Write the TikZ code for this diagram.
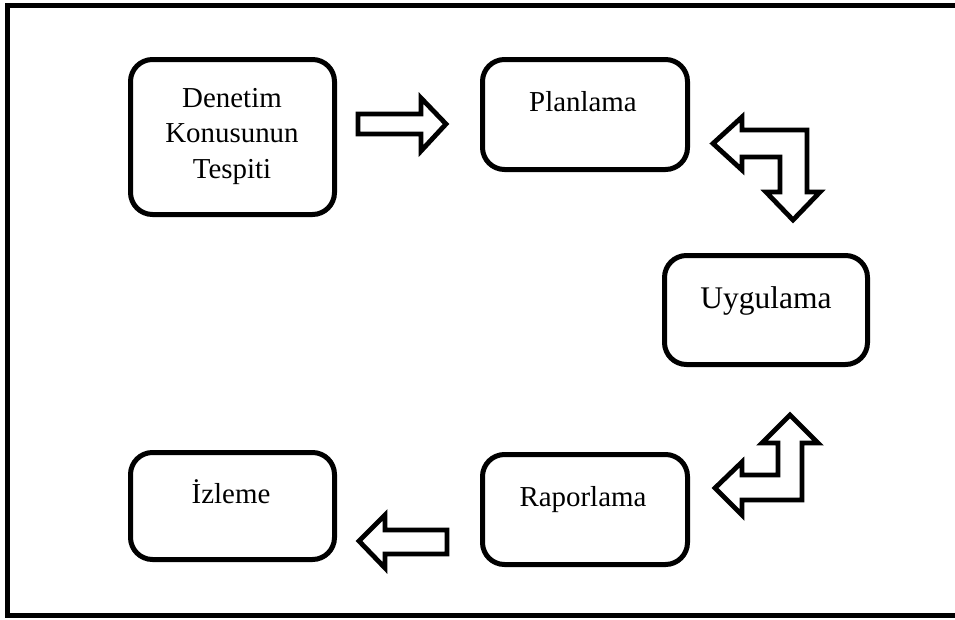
\documentclass[tikz,border=0pt]{standalone}
\usepackage{fontspec}
\setmainfont{Liberation Serif}
\begin{document}
\begin{tikzpicture}[x=1pt,y=-1pt,
  stepbox/.style={draw=black,line width=5pt,rounded corners=22pt,fill=white,
    inner sep=0pt,outer sep=0pt},
  label/.style={font=\fontsize{28.9}{35.5}\selectfont,anchor=base,inner sep=0pt,align=center},
  blockarrow/.style={draw=black,line width=4.8pt,fill=white,line join=miter,miter limit=10}]
  \useasboundingbox (0,0) rectangle (955,619);
  \fill[white] (0,0) rectangle (955,619);
  % outer frame, open on the right
  \draw[line width=5pt] (955,5.5) -- (7.5,5.5) -- (7.5,615.5) -- (955,615.5);

  % process boxes
  \node[stepbox,minimum width=204pt,minimum height=155pt] (tespit) at (232.5,137) {};
  \node[stepbox,minimum width=205pt,minimum height=110pt] (plan) at (585,114.5) {};
  \node[stepbox,minimum width=203pt,minimum height=109pt] (uygula) at (766,310) {};
  \node[stepbox,minimum width=205pt,minimum height=110pt] (rapor) at (585,509.5) {};
  \node[stepbox,minimum width=204pt,minimum height=107pt] (izle) at (232.5,506) {};

  % box texts
  \node[label,anchor=north] (tespittxt) at (232,88) {Denetim\\Konusunun\\Tespiti};
  \node[label] (plantxt) at (583,111) {Planlama};
  \node[label,font=\fontsize{31.5}{38}\selectfont] (uygulatxt) at (766,308) {Uygulama};
  \node[label] (raportxt) at (583,506) {Raporlama};
  \node[label] (izletxt) at (231,503) {İzleme};

  % straight block arrows
  \draw[blockarrow] (358,114) -- (421,114) -- (421,98) -- (446,124) -- (421,151)
    -- (421,134) -- (358,134) -- cycle;
  \draw[blockarrow] (359,541) -- (385,515) -- (385,530) -- (447,530) -- (447,554)
    -- (385,554) -- (385,568) -- cycle;

  % bent double-headed block arrows
  \draw[blockarrow] (713,143.5) -- (742,117) -- (742,130) -- (807,130) -- (807,192)
    -- (820,192) -- (793,220) -- (766,192) -- (780,192) -- (780,157) -- (742,157)
    -- (742,170) -- cycle;
  \draw[blockarrow] (790,415) -- (818,443) -- (802,443) -- (802,500) -- (742,500)
    -- (742,515) -- (715,488) -- (742,462) -- (742,475) -- (778,475) -- (778,443)
    -- (762,443) -- cycle;
\end{tikzpicture}
\end{document}
